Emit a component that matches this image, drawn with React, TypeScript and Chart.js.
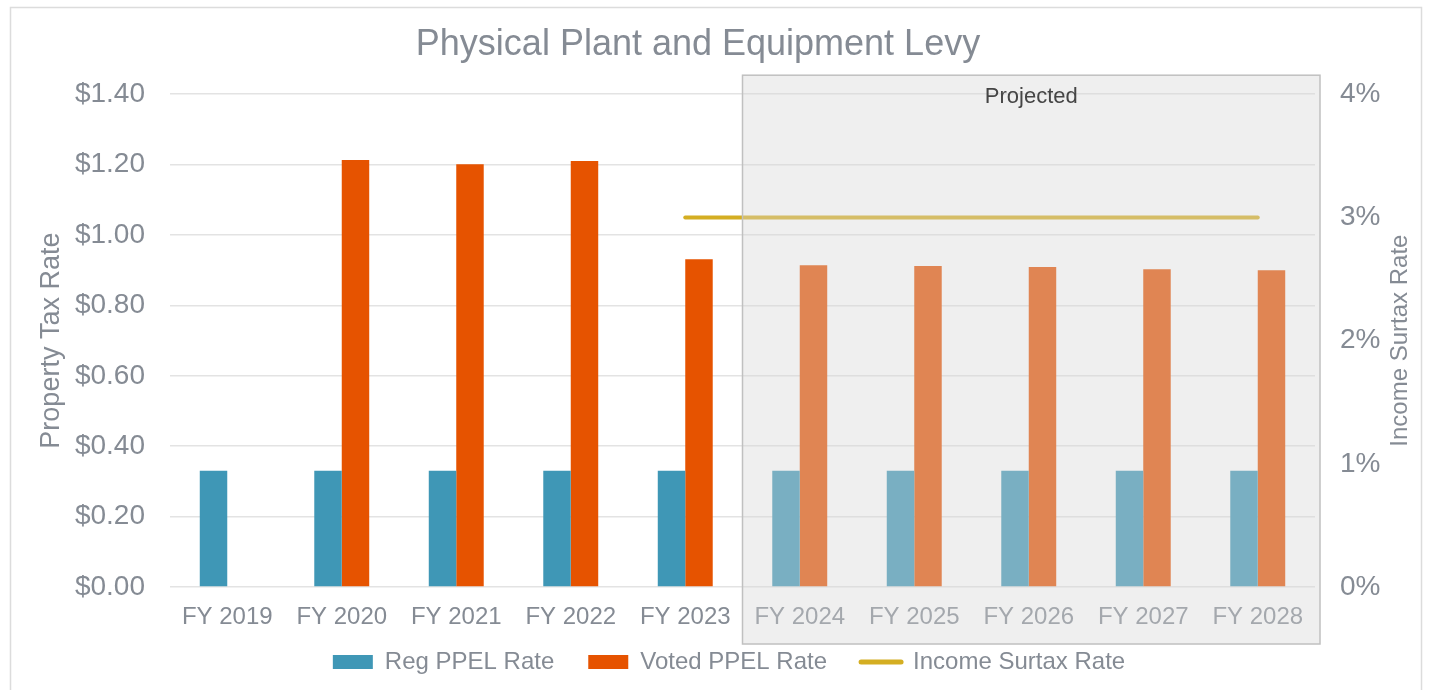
import React, { useEffect, useRef } from "react";
import { Chart, registerables } from "chart.js";

Chart.register(...registerables);

const FONT = '"Liberation Sans", Arial, sans-serif';
Chart.defaults.font.family = FONT;

const chartTitle = "Physical Plant and Equipment Levy";
const categories = [
  "FY 2019",
  "FY 2020",
  "FY 2021",
  "FY 2022",
  "FY 2023",
  "FY 2024",
  "FY 2025",
  "FY 2026",
  "FY 2027",
  "FY 2028",
];
const regPpelRate = [0.33, 0.33, 0.33, 0.33, 0.33, 0.33, 0.33, 0.33, 0.33, 0.33];
const votedPpelRate = [null, 1.213, 1.201, 1.21, 0.931, 0.914, 0.912, 0.909, 0.903, 0.9];
const incomeSurtaxRate = [null, null, null, null, 3, 3, 3, 3, 3, 3];
const seriesNames = ["Reg PPEL Rate", "Voted PPEL Rate", "Income Surtax Rate"];
const leftAxisTitle = "Property Tax Rate";
const rightAxisTitle = "Income Surtax Rate";
const leftAxisRange = [0, 1.4, 0.2];
const rightAxisRange = [0, 4, 1];
const projectedLabel = "Projected";
const projectedStartIndex = 5;

const TEXT = "#858b94";
const BLUE = "#3f97b6";
const ORANGE = "#e65300";
const GOLD = "#d4ae22";

const projectedPlugin = {
  id: "projectedBox",
  afterLayout(chart: any) {
    if (chart.titleBlock) {
      chart.titleBlock.left -= 17;
      chart.titleBlock.right -= 17;
    }
    if (chart.legend) {
      chart.legend.left += 14;
      chart.legend.right += 14;
    }
    const x = chart.scales.x;
    if (x) {
      x.bottom = x.top + 50;
    }
  },
  beforeDraw(chart: any) {
    const { ctx } = chart;
    ctx.save();
    ctx.strokeStyle = "#dcdcdc";
    ctx.lineWidth = 1.5;
    ctx.strokeRect(10.5, 7.5, 1411, 700);
    ctx.restore();
  },
  afterDraw(chart: any) {
    const { ctx, chartArea, scales } = chart;
    // right axis title, reading bottom-to-top
    ctx.save();
    ctx.translate(1400, (chartArea.top + chartArea.bottom) / 2);
    ctx.rotate(-Math.PI / 2);
    ctx.fillStyle = TEXT;
    ctx.font = `24px ${FONT}`;
    ctx.textAlign = "center";
    ctx.textBaseline = "middle";
    ctx.fillText(rightAxisTitle, 0, 0);
    ctx.restore();

    const x0 = scales.x.getPixelForValue(projectedStartIndex - 0.5);
    const x1 = chartArea.right + 5;
    const y0 = chartArea.top - 19;
    const y1 = chartArea.bottom + 57;
    ctx.save();
    ctx.fillStyle = "rgba(214,214,214,0.39)";
    ctx.fillRect(x0, y0, x1 - x0, y1 - y0);
    ctx.strokeStyle = "#c0c0c0";
    ctx.lineWidth = 1.5;
    ctx.strokeRect(x0, y0, x1 - x0, y1 - y0);
    ctx.fillStyle = "#454545";
    ctx.font = `22px ${FONT}`;
    ctx.textAlign = "center";
    ctx.textBaseline = "middle";
    ctx.fillText(projectedLabel, (x0 + x1) / 2, y0 + 22);
    ctx.restore();
  },
};

export default function App() {
  const canvasRef = useRef<HTMLCanvasElement | null>(null);

  useEffect(() => {
    const canvas = canvasRef.current;
    if (!canvas) return;
    const chart = new Chart(canvas, {
      type: "bar",
      data: {
        labels: categories,
        datasets: [
          {
            label: seriesNames[0],
            data: regPpelRate,
            backgroundColor: BLUE,
            borderWidth: 0,
            yAxisID: "y",
            categoryPercentage: 0.48,
            barPercentage: 1.0,
            order: 1,
          } as any,
          {
            label: seriesNames[1],
            data: votedPpelRate,
            backgroundColor: ORANGE,
            borderWidth: 0,
            yAxisID: "y",
            categoryPercentage: 0.48,
            barPercentage: 1.0,
            order: 1,
          } as any,
          {
            type: "line",
            label: seriesNames[2],
            data: incomeSurtaxRate,
            borderColor: GOLD,
            backgroundColor: GOLD,
            borderWidth: 4,
            borderCapStyle: "round",
            pointRadius: 0,
            yAxisID: "y1",
            order: 0,
          } as any,
        ],
      },
      options: {
        responsive: false,
        animation: false,
        devicePixelRatio: 1,
        layout: { padding: { left: 0, right: 0, top: 0, bottom: 6 } },
        plugins: {
          tooltip: { enabled: false },
          title: {
            display: true,
            text: chartTitle,
            color: TEXT,
            font: { family: FONT, size: 36, weight: "normal" },
            padding: { top: 23, bottom: 28 },
          },
          legend: {
            position: "bottom",
            labels: {
              usePointStyle: true,
              pointStyleWidth: 40,
              boxHeight: 14,
              padding: 34,
              color: TEXT,
              font: { family: FONT, size: 24 },
              sort: (a: any, b: any) => a.datasetIndex - b.datasetIndex,
              generateLabels(chart: any) {
                const items = (Chart.defaults.plugins.legend.labels as any).generateLabels(chart);
                return items.map((it: any) => {
                  const ds = chart.data.datasets[it.datasetIndex];
                  if (ds.type === "line") {
                    return { ...it, pointStyle: "line", lineWidth: 5, strokeStyle: GOLD, lineCap: "round" };
                  }
                  return { ...it, pointStyle: "rect", lineWidth: 0 };
                });
              },
            },
          },
        },
        scales: {
          x: {
            grid: { display: false, drawTicks: false },
            border: { display: false },
            ticks: { color: TEXT, font: { family: FONT, size: 24 }, padding: 16, maxRotation: 0 },
            afterFit: (s: any) => {
              s.height = 29;
            },
          },
          y: {
            position: "left",
            min: leftAxisRange[0],
            max: leftAxisRange[1],
            grid: { color: "#e3e3e3", lineWidth: 1.5, drawTicks: false },
            border: { display: false },
            ticks: {
              stepSize: leftAxisRange[2],
              color: TEXT,
              font: { family: FONT, size: 28 },
              padding: 25,
              callback: (v: any) => "$" + Number(v).toFixed(2),
            },
            title: {
              display: true,
              text: leftAxisTitle,
              color: TEXT,
              font: { family: FONT, size: 27 },
              padding: { top: 35, bottom: 0 },
            },
            afterFit: (s: any) => {
              s.width = 170;
            },
          },
          y1: {
            position: "right",
            min: rightAxisRange[0],
            max: rightAxisRange[1],
            grid: { display: false, drawTicks: false },
            border: { display: false },
            ticks: {
              stepSize: rightAxisRange[2],
              color: TEXT,
              font: { family: FONT, size: 28 },
              padding: 25,
              callback: (v: any) => v + "%",
            },
            afterFit: (s: any) => {
              s.width = 115;
            },
          },
        },
      } as any,
      plugins: [projectedPlugin],
    });
    return () => chart.destroy();
  }, []);

  return (
    <div style={{ position: "fixed", left: 0, top: 0, width: 1430, height: 690, background: "#fff" }}>
      <canvas ref={canvasRef} width={1430} height={690} style={{ display: "block" }} />
    </div>
  );
}
